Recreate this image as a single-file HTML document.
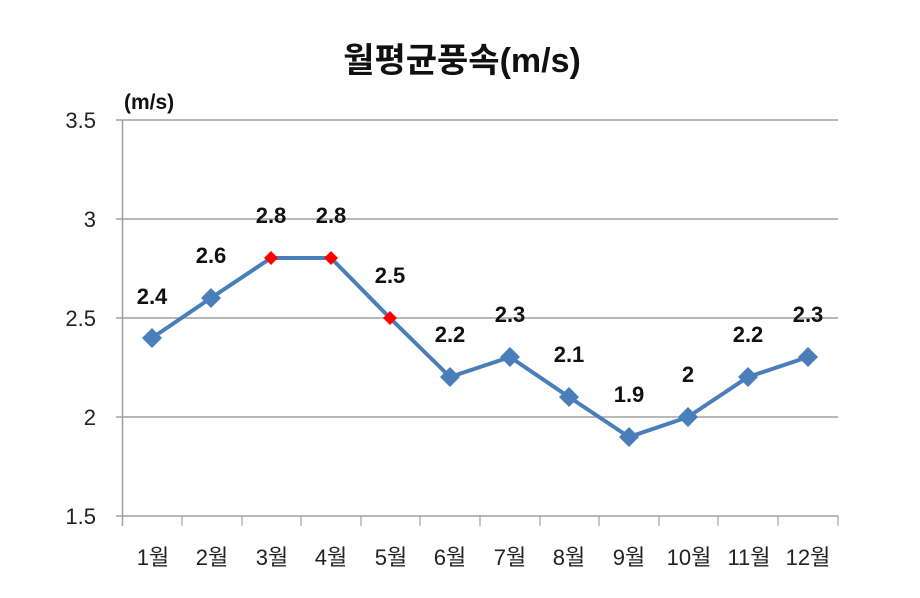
<!DOCTYPE html>
<html><head><meta charset="utf-8"><style>
html,body{margin:0;padding:0;background:#fff;width:920px;height:598px;overflow:hidden}
text{font-family:"Liberation Sans","Noto Sans CJK KR","NanumGothic",sans-serif}
</style></head><body>
<svg width="920" height="598" xmlns="http://www.w3.org/2000/svg">
<text x="462" y="72" font-size="34" font-weight="bold" text-anchor="middle" fill="#111">월평균풍속(m/s)</text>
<text x="124" y="109" font-size="21" font-weight="bold" fill="#111">(m/s)</text>
<g stroke="#a0a0a0" stroke-width="1.5">
<line x1="116" y1="120" x2="838" y2="120"/>
<line x1="116" y1="219" x2="838" y2="219"/>
<line x1="116" y1="318" x2="838" y2="318"/>
<line x1="116" y1="417" x2="838" y2="417"/>
<line x1="116" y1="516" x2="838" y2="516"/>
<line x1="122.5" y1="120" x2="122.5" y2="526"/>
</g>
<g stroke="#a0a0a0" stroke-width="1.2">
<line x1="182" y1="516" x2="182" y2="526"/><line x1="242" y1="516" x2="242" y2="526"/>
<line x1="301" y1="516" x2="301" y2="526"/><line x1="361" y1="516" x2="361" y2="526"/>
<line x1="420" y1="516" x2="420" y2="526"/><line x1="480" y1="516" x2="480" y2="526"/>
<line x1="540" y1="516" x2="540" y2="526"/><line x1="599" y1="516" x2="599" y2="526"/>
<line x1="659" y1="516" x2="659" y2="526"/><line x1="718" y1="516" x2="718" y2="526"/>
<line x1="778" y1="516" x2="778" y2="526"/><line x1="838" y1="516" x2="838" y2="526"/>
</g>
<g font-size="22" fill="#222" text-anchor="end">
<text x="96" y="128">3.5</text><text x="96" y="227">3</text><text x="96" y="326">2.5</text><text x="96" y="425">2</text><text x="96" y="524">1.5</text>
</g>
<g font-size="22" fill="#222" text-anchor="middle">
<text x="153" y="565">1월</text><text x="212" y="565">2월</text><text x="272" y="565">3월</text><text x="331" y="565">4월</text>
<text x="391" y="565">5월</text><text x="450" y="565">6월</text><text x="510" y="565">7월</text><text x="569" y="565">8월</text>
<text x="629" y="565">9월</text><text x="689" y="565">10월</text><text x="749" y="565">11월</text><text x="808" y="565">12월</text>
</g>
<polyline fill="none" stroke="#4a7ebb" stroke-width="4" stroke-linejoin="round" points="152,338 211,298 271,258 331,258 390,318 450,377 510,357 569,397 629,437 688,417 748,377 808,357"/>
<g fill="#4a7ebb">
<path d="M152,328l10,10-10,10-10-10z"/><path d="M211,288l10,10-10,10-10-10z"/>
<path d="M450,367l10,10-10,10-10-10z"/><path d="M510,347l10,10-10,10-10-10z"/>
<path d="M569,387l10,10-10,10-10-10z"/><path d="M629,427l10,10-10,10-10-10z"/>
<path d="M688,407l10,10-10,10-10-10z"/><path d="M748,367l10,10-10,10-10-10z"/>
<path d="M808,347l10,10-10,10-10-10z"/>
</g>
<g fill="#ff0000">
<path d="M271,251l7,7-7,7-7-7z"/><path d="M331,251l7,7-7,7-7-7z"/><path d="M390,311l7,7-7,7-7-7z"/>
</g>
<g font-size="22" font-weight="bold" fill="#111" text-anchor="middle">
<text x="152" y="304">2.4</text><text x="211" y="263">2.6</text><text x="271" y="223">2.8</text><text x="331" y="223">2.8</text>
<text x="390" y="283">2.5</text><text x="450" y="342">2.2</text><text x="510" y="322">2.3</text><text x="569" y="362">2.1</text>
<text x="629" y="402">1.9</text><text x="688" y="382">2</text><text x="748" y="342">2.2</text><text x="808" y="322">2.3</text>
</g>
</svg>
</body></html>
